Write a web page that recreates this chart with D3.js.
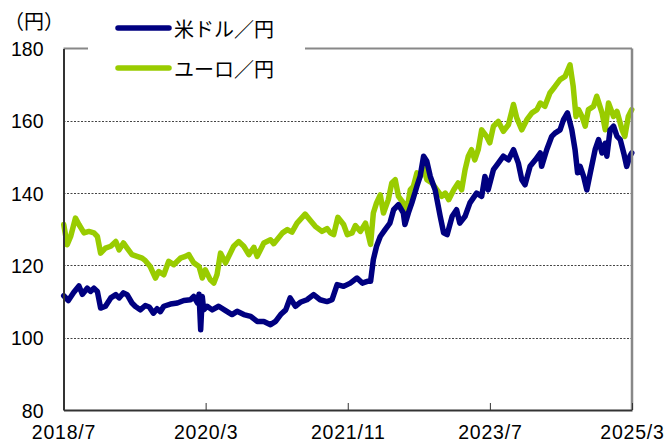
<!DOCTYPE html>
<html><head><meta charset="utf-8">
<script src="https://cdn.jsdelivr.net/npm/d3@7"></script>
<style>
html,body{margin:0;padding:0;background:#fff;}
svg{display:block;font-family:"Noto Sans CJK JP","Noto Sans",sans-serif;}
</style></head>
<body><svg id="c" width="667" height="443"></svg>
<script>
const seriesNames = ["米ドル／円", "ユーロ／円"];
const unitLabel = "（円）";
const yTicks = [80, 100, 120, 140, 160, 180];
const xTickLabels = ["2018/7", "2020/3", "2021/11", "2023/7", "2025/3"];
const xDomain = ["2018-07-01", "2025-04-01"];

const usdDates = ["2018-07-02","2018-07-22","2018-08-14","2018-09-06","2018-09-21","2018-10-12","2018-10-26","2018-11-10","2018-11-25","2018-12-09","2018-12-30",
"2019-01-22","2019-02-13","2019-02-27","2019-03-18","2019-04-03","2019-04-24","2019-05-08","2019-05-30","2019-06-21","2019-07-08","2019-07-26","2019-08-11","2019-08-25","2019-09-09","2019-10-08","2019-11-07","2019-12-05",
"2020-01-03","2020-01-17","2020-02-02","2020-02-09","2020-02-16","2020-02-23","2020-02-29","2020-03-15","2020-04-06","2020-05-04","2020-06-03","2020-07-01","2020-07-23","2020-08-21","2020-09-20","2020-10-18","2020-11-16","2020-12-15",
"2021-01-06","2021-01-28","2021-02-19","2021-03-10","2021-04-02","2021-04-23","2021-05-22","2021-06-20","2021-07-18","2021-08-17","2021-09-08","2021-09-30","2021-10-28","2021-11-26","2021-12-25",
"2022-01-17","2022-02-08","2022-02-22","2022-03-06","2022-03-20","2022-04-05","2022-04-26","2022-05-17","2022-06-02","2022-06-23","2022-07-14","2022-07-21","2022-08-05","2022-08-20","2022-09-11","2022-09-25","2022-10-10","2022-10-24","2022-11-08","2022-11-29","2022-12-21",
"2023-01-05","2023-01-20","2023-02-11","2023-03-02","2023-03-16","2023-04-08","2023-04-29","2023-05-28","2023-06-19","2023-07-03","2023-07-17","2023-08-09","2023-08-30","2023-09-21","2023-10-13","2023-11-04","2023-11-25","2023-12-10","2023-12-24",
"2024-01-15","2024-02-07","2024-02-28","2024-03-05","2024-03-27","2024-04-18","2024-05-02","2024-05-24","2024-06-08","2024-06-25","2024-07-14","2024-07-28","2024-08-08","2024-08-19","2024-09-03","2024-09-17","2024-10-02","2024-10-23","2024-11-07","2024-11-22","2024-12-06","2024-12-13","2024-12-27",
"2025-01-11","2025-01-26","2025-02-09","2025-02-24","2025-03-09","2025-03-23","2025-03-31"];
const usdValues = [111.6,110.3,112.5,114.3,112.0,113.7,112.8,113.7,112.8,108.2,108.7,
111.0,111.9,111.0,112.4,111.9,109.6,108.7,107.7,108.9,108.5,106.8,108.0,107.2,108.7,109.3,109.6,110.3,
110.5,111.4,109.6,112.0,102.2,111.4,107.7,108.7,107.7,108.7,107.5,106.4,107.3,106.4,105.9,104.5,104.5,103.6,
104.5,106.4,107.7,111.0,108.7,109.8,110.5,111.9,110.5,110.0,110.5,114.7,114.2,115.1,116.5,
115.1,115.6,115.6,121.6,125.3,128.0,129.9,131.7,135.4,136.8,134.5,131.3,134.5,137.3,141.9,144.6,150.2,148.8,144.6,140.9,133.6,
129.0,128.5,133.6,135.4,131.7,133.6,137.3,140.0,139.1,144.6,140.9,146.5,148.3,150.2,149.2,152.0,148.3,143.7,142.3,
147.4,149.2,151.1,147.4,152.0,155.7,156.6,157.5,160.3,162.2,157.5,152.0,145.6,147.4,144.6,140.9,145.6,152.0,154.8,151.1,153.8,150.2,157.5,
158.5,155.7,154.8,151.1,147.4,150.2,151.1];

const eurDates = ["2018-07-02","2018-07-17","2018-08-01","2018-08-22","2018-09-06","2018-09-28","2018-10-19","2018-11-10","2018-11-25","2018-12-09","2018-12-30",
"2019-01-22","2019-02-13","2019-02-27","2019-03-18","2019-04-03","2019-04-24","2019-05-16","2019-06-07","2019-06-21","2019-07-12","2019-08-04","2019-08-18","2019-09-09","2019-09-30","2019-10-22","2019-11-20","2019-12-12","2019-12-26",
"2020-01-17","2020-02-09","2020-02-23","2020-03-07","2020-03-29","2020-04-13","2020-04-27","2020-05-12","2020-06-03","2020-07-08","2020-07-30","2020-08-21","2020-09-12","2020-10-04","2020-10-18","2020-11-16","2020-12-15","2020-12-29",
"2021-02-05","2021-02-26","2021-03-18","2021-04-09","2021-05-14","2021-06-06","2021-06-27","2021-07-26","2021-08-17","2021-09-01","2021-09-15","2021-10-03","2021-10-28","2021-11-13","2021-12-04","2021-12-18",
"2022-01-09","2022-01-31","2022-02-22","2022-03-06","2022-03-20","2022-04-05","2022-04-19","2022-05-10","2022-05-25","2022-06-09","2022-06-23","2022-07-14","2022-07-29","2022-08-13","2022-08-27","2022-09-11","2022-09-25","2022-10-10","2022-10-24","2022-11-15","2022-12-07","2022-12-28",
"2023-01-12","2023-01-27","2023-02-18","2023-03-09","2023-03-24","2023-04-08","2023-04-22","2023-05-06","2023-05-20","2023-06-04","2023-06-19","2023-07-10","2023-07-24","2023-08-09","2023-08-30","2023-09-21","2023-10-13","2023-11-04","2023-11-18","2023-12-10",
"2024-01-01","2024-01-23","2024-02-14","2024-02-28","2024-03-19","2024-04-10","2024-05-02","2024-05-24","2024-06-15","2024-07-06","2024-07-20","2024-08-01","2024-08-12","2024-08-27","2024-09-10","2024-09-24","2024-10-16","2024-10-30","2024-11-22","2024-12-06","2024-12-20",
"2025-01-11","2025-01-26","2025-02-17","2025-03-01","2025-03-16","2025-03-31"];
const eurValues = [131.3,125.7,128.0,133.1,131.3,129.0,129.4,129.0,128.0,123.4,124.8,
125.3,126.6,124.3,126.2,124.8,123.0,122.5,122.0,121.3,119.7,116.5,118.3,117.4,121.1,120.2,122.0,122.5,123.0,
120.7,119.7,116.5,118.8,116.0,115.1,117.5,123.4,120.7,125.3,126.6,125.3,123.0,125.0,122.5,126.2,127.1,126.0,
129.0,129.9,129.2,131.7,134.2,132.4,130.8,129.4,130.2,129.0,128.5,133.3,131.3,128.5,129.0,131.0,
129.4,131.7,125.8,134.5,137.3,139.5,134.5,138.2,142.8,143.7,139.1,137.3,134.9,140.9,141.9,145.6,144.6,147.4,143.7,142.8,140.9,139.1,
140.0,138.2,140.9,142.8,140.9,146.5,150.2,152.0,149.2,152.0,157.5,155.7,153.9,158.5,159.8,157.1,158.9,164.5,160.8,157.5,
160.3,162.2,163.1,164.9,164.0,167.7,169.5,171.4,172.3,175.5,169.5,161.2,163.1,161.2,158.5,163.1,164.0,166.8,162.2,157.5,164.9,
161.2,162.6,157.5,155.7,161.2,163.1];

const colors = ["#000080", "#99cc00"];
const numFont = "'Liberation Sans', Arial, sans-serif";

const svg = d3.select("#c");
const parse = d3.timeParse("%Y-%m-%d");
const plot = {left: 63.5, right: 632, top: 48.5, bottom: 410};

const x = d3.scaleTime().domain(xDomain.map(parse)).range([plot.left, plot.right]);
const y = d3.scaleLinear().domain([80, 180]).range([plot.bottom, plot.top]);

// gridlines
svg.append("g").selectAll("line").data(yTicks.filter(v => v > 80 && v < 180)).join("line")
  .attr("x1", plot.left).attr("x2", plot.right)
  .attr("y1", d => Math.round(y(d)) + 0.5).attr("y2", d => Math.round(y(d)) + 0.5)
  .attr("stroke", "#444").attr("stroke-width", 1).attr("stroke-dasharray", "2,1.5");

// series
const usd = usdDates.map((d, i) => ({date: parse(d), v: usdValues[i]}));
const eur = eurDates.map((d, i) => ({date: parse(d), v: eurValues[i]}));
const line = d3.line().x(d => x(d.date)).y(d => y(d.v));
[[eur, colors[1]], [usd, colors[0]]].forEach(([data, c]) => {
  svg.append("path").datum(data).attr("d", line)
    .attr("fill", "none").attr("stroke", c).attr("stroke-width", 5.5)
    .attr("stroke-linejoin", "round").attr("stroke-linecap", "round");
});

// frame
svg.append("line").attr("x1", plot.left).attr("x2", plot.right).attr("y1", plot.top).attr("y2", plot.top)
  .attr("stroke", "#888").attr("stroke-width", 2);
svg.append("line").attr("x1", plot.right).attr("x2", plot.right).attr("y1", plot.top).attr("y2", plot.bottom)
  .attr("stroke", "#888").attr("stroke-width", 2.5);

// x axis
const t0 = x.domain()[0].getTime(), t1 = x.domain()[1].getTime();
const xTickDates = xTickLabels.map((_, i) => new Date(t0 + i * (t1 - t0) / (xTickLabels.length - 1)));
const xAxis = d3.axisBottom(x).tickValues(xTickDates).tickSizeInner(-7).tickSizeOuter(0)
  .tickFormat((d, i) => xTickLabels[i]);
const gx = svg.append("g").attr("transform", `translate(0,${plot.bottom})`).call(xAxis);
gx.select(".domain").attr("stroke", "#333").attr("stroke-width", 2);
gx.selectAll(".tick line").attr("stroke", "#333").attr("stroke-width", 1);
gx.selectAll(".tick text").attr("font-size", 19.5).attr("fill", "#000")
  .attr("font-family", numFont).attr("letter-spacing", 0.8).attr("dy", null).attr("y", 28.5)
  .attr("dominant-baseline", "alphabetic");

// y axis
const yAxis = d3.axisLeft(y).tickValues(yTicks).tickSize(0).tickPadding(0);
const gy = svg.append("g").attr("transform", `translate(${plot.left},0)`).call(yAxis);
gy.select(".domain").attr("stroke", "#333").attr("stroke-width", 2);
gy.selectAll(".tick text").attr("font-size", 19.5).attr("fill", "#000")
  .attr("font-family", numFont).attr("x", -20).attr("dy", null)
  .attr("dominant-baseline", "central");

// unit label
svg.append("text").attr("x", 4).attr("y", 20).attr("dominant-baseline", "central")
  .attr("font-size", 20).text(unitLabel);

// legend
svg.append("rect").attr("x", 88).attr("y", 0).attr("width", 217).attr("height", 88).attr("fill", "#fff");
const legY = [28, 68];
seriesNames.forEach((n, i) => {
  const c = colors[i];
  svg.append("line").attr("x1", 118).attr("x2", 169).attr("y1", legY[i]).attr("y2", legY[i])
    .attr("stroke", c).attr("stroke-width", 5.5).attr("stroke-linecap", "round");
  svg.append("text").attr("x", 174).attr("y", legY[i]).attr("dominant-baseline", "central")
    .attr("font-size", 20).attr("fill", "#000").text(n);
});
</script></body></html>
